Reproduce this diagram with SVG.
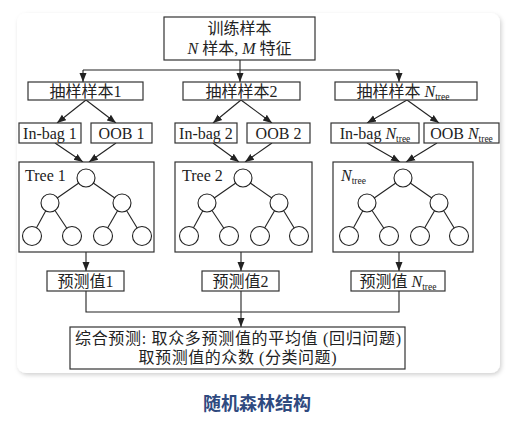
<svg xmlns="http://www.w3.org/2000/svg" width="528" height="422" viewBox="0 0 528 422">
<defs>
<filter id="sh" x="-5%" y="-5%" width="110%" height="110%">
<feDropShadow dx="1.5" dy="2" stdDeviation="2" flood-color="#000" flood-opacity="0.18"/>
</filter>
<marker id="ar" markerUnits="userSpaceOnUse" markerWidth="9" markerHeight="9" viewBox="0 0 9 9" refX="9" refY="4.5" orient="auto">
<path d="M0,1 L9,4.5 L0,8 Z" fill="#222"/>
</marker>
<g id="tree" stroke="#222" stroke-width="1.1" fill="#fff">
<line x1="0" y1="178" x2="-36" y2="203"/>
<line x1="0" y1="178" x2="36" y2="203"/>
<line x1="-36" y1="203" x2="-54" y2="236"/>
<line x1="-36" y1="203" x2="-14" y2="236"/>
<line x1="36" y1="203" x2="17" y2="236"/>
<line x1="36" y1="203" x2="56" y2="236"/>
<circle cx="0" cy="178" r="9"/>
<circle cx="-36" cy="203" r="9"/>
<circle cx="36" cy="203" r="9"/>
<circle cx="-54" cy="236" r="9.5"/>
<circle cx="-14" cy="236" r="9.5"/>
<circle cx="17" cy="236" r="9.5"/>
<circle cx="56" cy="236" r="9.5"/>
</g>
</defs>
<style>
.box{fill:#fff;stroke:#333;stroke-width:1.2}
.t{font-family:"Liberation Serif","Noto Sans CJK SC",serif;font-size:16px;fill:#222}
.c{text-anchor:middle}
.i{font-style:italic}
.sub{font-size:9.5px}
.con line,.con path{stroke:#222;stroke-width:1.1;fill:none}
.arr{marker-end:url(#ar)}
.cap{font-family:"Noto Sans CJK SC","Noto Sans",sans-serif;font-size:18px;font-weight:bold;fill:#2f4a7f;text-anchor:middle}
</style>
<rect x="0" y="0" width="528" height="422" fill="#fff"/>
<rect x="17" y="13" width="483" height="360" rx="9" fill="#fff" filter="url(#sh)"/>

<g id="connectors" class="con">
<line x1="240" y1="60" x2="240" y2="82" class="arr"/>
<line x1="83" y1="70" x2="399" y2="70"/>
<line x1="83" y1="70" x2="83" y2="82" class="arr"/>
<line x1="399" y1="70" x2="399" y2="82" class="arr"/>
<line x1="86" y1="100" x2="57" y2="123" class="arr"/>
<line x1="86" y1="100" x2="116" y2="123" class="arr"/>
<line x1="241" y1="100" x2="213" y2="123" class="arr"/>
<line x1="241" y1="100" x2="272" y2="123" class="arr"/>
<line x1="407" y1="100" x2="367" y2="123" class="arr"/>
<line x1="407" y1="100" x2="439" y2="123" class="arr"/>
<line x1="55" y1="143" x2="83" y2="162" class="arr"/>
<line x1="116" y1="143" x2="89" y2="162" class="arr"/>
<line x1="213" y1="143" x2="239" y2="162" class="arr"/>
<line x1="272" y1="143" x2="245" y2="162" class="arr"/>
<line x1="367" y1="143" x2="400" y2="162" class="arr"/>
<line x1="437" y1="143" x2="406" y2="162" class="arr"/>
<line x1="86" y1="252" x2="86" y2="271" class="arr"/>
<line x1="241" y1="252" x2="241" y2="271" class="arr"/>
<line x1="399" y1="252" x2="399" y2="271" class="arr"/>
<path d="M86,291 V312 H399 V291"/>
<line x1="241" y1="291" x2="241" y2="327" class="arr"/>
</g>

<g id="train">
<rect class="box" x="164" y="17" width="151" height="43"/>
<text class="t c" x="239.5" y="34">训练样本</text>
<text class="t c" x="239.5" y="54"><tspan class="i">N</tspan> 样本, <tspan class="i">M</tspan> 特征</text>
</g>

<g id="sample1">
<rect class="box" x="28" y="82" width="115" height="18"/>
<text class="t c" x="85.5" y="97">抽样样本1</text>
</g>
<g id="sample2">
<rect class="box" x="183" y="82" width="117" height="18"/>
<text class="t c" x="241.5" y="97">抽样样本2</text>
</g>
<g id="sample3">
<rect class="box" x="335" y="82" width="142" height="18"/>
<text class="t c" x="403" y="97">抽样样本 <tspan class="i">N</tspan><tspan class="sub" dy="3">tree</tspan></text>
</g>

<g id="inbag1">
<rect class="box" x="19" y="123" width="62" height="20"/>
<text class="t c" x="50" y="139">In-bag 1</text>
</g>
<g id="oob1">
<rect class="box" x="91" y="123" width="61" height="20"/>
<text class="t c" x="121.5" y="139">OOB 1</text>
</g>
<g id="inbag2">
<rect class="box" x="175" y="123" width="62" height="20"/>
<text class="t c" x="206" y="139">In-bag 2</text>
</g>
<g id="oob2">
<rect class="box" x="247" y="123" width="63" height="20"/>
<text class="t c" x="278.5" y="139">OOB 2</text>
</g>
<g id="inbag3">
<rect class="box" x="331" y="123" width="88" height="20"/>
<text class="t c" x="375" y="139">In-bag <tspan class="i">N</tspan><tspan class="sub" dy="3">tree</tspan></text>
</g>
<g id="oob3">
<rect class="box" x="424" y="123" width="75" height="20"/>
<text class="t c" x="461.5" y="139">OOB <tspan class="i">N</tspan><tspan class="sub" dy="3">tree</tspan></text>
</g>

<g id="tree1">
<rect class="box" x="19" y="162" width="135" height="90"/>
<text class="t" x="25" y="181">Tree 1</text>
<use href="#tree" transform="translate(86,0)"/>
</g>
<g id="tree2">
<rect class="box" x="175" y="162" width="137" height="90"/>
<text class="t" x="182" y="181">Tree 2</text>
<use href="#tree" transform="translate(243,0)"/>
</g>
<g id="tree3">
<rect class="box" x="333" y="162" width="140" height="90"/>
<text class="t" x="341" y="181"><tspan class="i">N</tspan><tspan class="sub" dy="3">tree</tspan></text>
<use href="#tree" transform="translate(403,0)"/>
</g>

<g id="pred1">
<rect class="box" x="47" y="271" width="77" height="20"/>
<text class="t c" x="85.5" y="287">预测值1</text>
</g>
<g id="pred2">
<rect class="box" x="202" y="271" width="77" height="20"/>
<text class="t c" x="240.5" y="287">预测值2</text>
</g>
<g id="pred3">
<rect class="box" x="351" y="271" width="94" height="20"/>
<text class="t c" x="398" y="287">预测值 <tspan class="i">N</tspan><tspan class="sub" dy="3">tree</tspan></text>
</g>

<g id="final">
<rect class="box" x="70" y="327" width="335" height="42"/>
<text class="t c" x="238" y="344" textLength="326" lengthAdjust="spacing">综合预测: 取众多预测值的平均值 (回归问题)</text>
<text class="t c" x="237.5" y="363" textLength="198" lengthAdjust="spacing">取预测值的众数 (分类问题)</text>
</g>

<text class="cap" x="257" y="410">随机森林结构</text>
</svg>
